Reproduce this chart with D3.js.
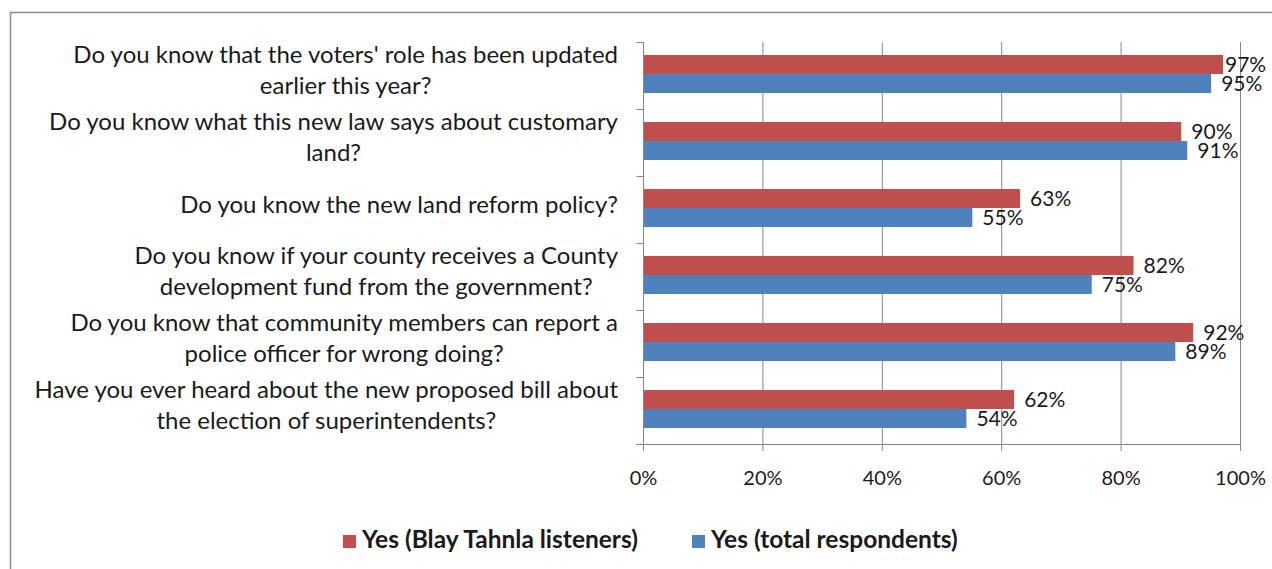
<!DOCTYPE html>
<html>
<head>
<meta charset="utf-8">
<script src="https://cdn.jsdelivr.net/npm/d3@7"></script>
<style>
  body { margin: 0; background: #fff; }
  svg text { font-family: Lato, "Open Sans", sans-serif; fill: #1a1a1a; }
</style>
</head>
<body>
<div id="chart"></div>
<script>
// categories (each is an array of wrapped lines)
const questions = [
  ["Do you know that the voters' role has been updated", "earlier this year?"],
  ["Do you know what this new law says about customary", "land?"],
  ["Do you know the new land reform policy?"],
  ["Do you know if your county receives a County", "development fund from the government?"],
  ["Do you know that community members can report a", "police officer for wrong doing?"],
  ["Have you ever heard about the new proposed bill about", "the election of superintendents?"]
];
const listeners = [97, 90, 63, 82, 92, 62];   // Yes (Blay Tahnla listeners)
const total     = [95, 91, 55, 75, 89, 54];   // Yes (total respondents)
const seriesNames = ["Yes (Blay Tahnla listeners)", "Yes (total respondents)"];
const seriesColors = ["#C0504D", "#4F81BD"];
const xTicks = [0, 20, 40, 60, 80, 100];

const width = 1272, height = 569;
const plotL = 643, plotR = 1240, plotT = 42, plotB = 444;

const svg = d3.select("#chart").append("svg")
  .attr("width", width).attr("height", height);

// outer frame
svg.append("rect")
  .attr("x", 10.5).attr("y", 12.5)
  .attr("width", 1400).attr("height", 700)
  .attr("fill", "none").attr("stroke", "#8c8c8c").attr("stroke-width", 1.5);

const x = d3.scaleLinear().domain([0, 100]).range([plotL, plotR]);
const y = d3.scaleBand().domain(d3.range(questions.length)).range([plotT, plotB]);
const inner = d3.scaleBand().domain([0, 1]).range([13, 13 + 38]);

// gridlines
svg.append("g").selectAll("line")
  .data(xTicks.slice(1))
  .enter().append("line")
  .attr("x1", d => x(d) + 0.5).attr("x2", d => x(d) + 0.5)
  .attr("y1", plotT).attr("y2", plotB)
  .attr("stroke", "#868686").attr("stroke-width", 1);

// x axis
const xAxis = svg.append("g")
  .attr("transform", "translate(0," + plotB + ")")
  .call(d3.axisBottom(x).tickValues(xTicks).tickFormat(d => d + "%").tickSize(7).tickPadding(20));
xAxis.select(".domain").attr("stroke", "#868686").attr("d", "M" + (plotL - 7) + ",0.5H" + plotR);
xAxis.selectAll(".tick line").attr("stroke", "#868686");
xAxis.selectAll("text").style("font-size", "20px").attr("fill", "#1a1a1a");

// y axis
const yAxis = svg.append("g").attr("transform", "translate(" + (plotL + 0.5) + ",0)");
yAxis.append("line").attr("y1", plotT).attr("y2", plotB).attr("stroke", "#868686");
yAxis.selectAll(".yt").data(d3.range(questions.length + 1)).enter().append("line")
  .attr("x1", -7).attr("x2", 0)
  .attr("y1", d => plotT + d * y.step() + 0.5).attr("y2", d => plotT + d * y.step() + 0.5)
  .attr("stroke", "#868686");

// bars
const seriesData = [listeners, total];
seriesData.forEach(function (vals, s) {
  const g = svg.append("g");
  g.selectAll("rect").data(vals).enter().append("rect")
    .attr("x", x(0) + 1)
    .attr("y", (d, i) => y(i) + inner(s))
    .attr("width", d => x(d) - x(0))
    .attr("height", inner.bandwidth())
    .attr("fill", seriesColors[s]);
  // data labels, pushed back inside the chart when they would run off the edge
  g.selectAll("text").data(vals).enter().append("text")
    .attr("x", d => Math.min(x(d) + 11, width - 47))
    .attr("y", (d, i) => y(i) + inner(s) + inner.bandwidth() / 2 + 2)
    .attr("dominant-baseline", "middle")
    .style("font-size", "21px")
    .text(d => d + "%");
});

// category labels: block right-aligned, lines centered
const labelRight = 618, lineH = 31;
questions.forEach(function (lines, i) {
  const g = svg.append("g");
  const texts = g.selectAll("text").data(lines).enter().append("text")
    .style("font-size", "24px")
    .attr("text-anchor", "middle")
    .attr("dominant-baseline", "middle")
    .text(d => d);
  let maxW = 0;
  texts.each(function () { maxW = Math.max(maxW, this.getComputedTextLength()); });
  const cy = y(i) + y.bandwidth() / 2 - 3;
  texts.attr("x", labelRight - maxW / 2)
    .attr("y", (d, k) => cy + (k - (lines.length - 1) / 2) * lineH);
});

// legend
const legendX = [343, 692];
const legend = svg.append("g");
seriesNames.forEach(function (name, s) {
  legend.append("rect")
    .attr("x", legendX[s]).attr("y", 535)
    .attr("width", 13).attr("height", 13)
    .attr("fill", seriesColors[s]);
  legend.append("text")
    .attr("x", legendX[s] + 19).attr("y", 542)
    .attr("dominant-baseline", "middle")
    .style("font-size", "24.5px").style("font-weight", "bold")
    .text(name);
});
</script>
</body>
</html>
